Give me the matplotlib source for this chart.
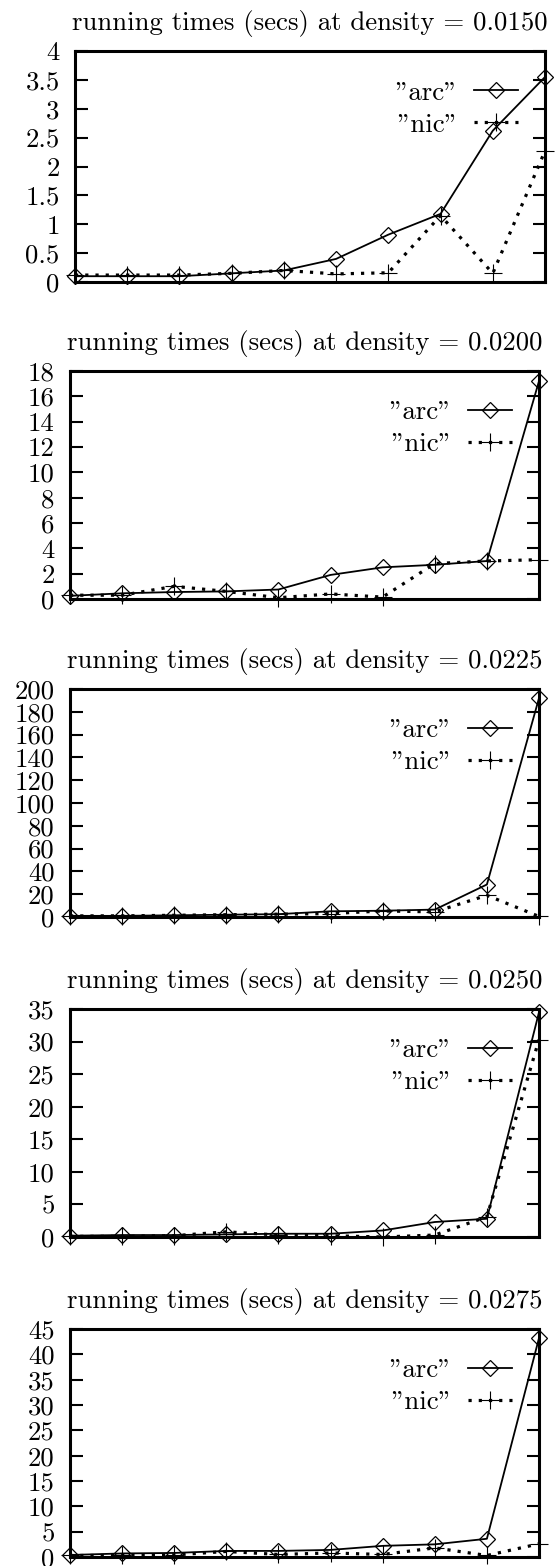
import matplotlib
matplotlib.use("Agg")
import matplotlib.pyplot as plt
from matplotlib.ticker import FuncFormatter, MultipleLocator

plt.rcParams['font.family'] = ['cmr10', 'DejaVu Serif']
plt.rcParams['axes.formatter.use_mathtext'] = True

# x positions (runs) and the five densities
runs = [1, 2, 3, 4, 5, 6, 7, 8, 9, 10]
densities = ["0.0150", "0.0200", "0.0225", "0.0250", "0.0275"]

arc_0150 = [0.10, 0.10, 0.10, 0.15, 0.20, 0.40, 0.82, 1.18, 2.62, 3.55]
nic_0150 = [0.12, 0.12, 0.12, 0.15, 0.20, 0.14, 0.16, 1.15, 0.15, 2.27]

arc_0200 = [0.25, 0.45, 0.55, 0.60, 0.75, 1.9, 2.5, 2.7, 3.0, 17.2]
nic_0200 = [0.30, 0.30, 1.00, 0.60, 0.10, 0.40, 0.15, 2.8, 3.0, 3.1]

arc_0225 = [1.0, 1.0, 1.5, 2.0, 2.5, 5.0, 5.5, 6.5, 28.5, 192]
nic_0225 = [1.0, 1.0, 1.5, 2.0, 2.5, 3.0, 5.3, 4.5, 19.0, 0.5]

arc_0250 = [0.2, 0.3, 0.3, 0.4, 0.5, 0.5, 1.0, 2.3, 2.8, 34.5]
nic_0250 = [0.1, 0.1, 0.2, 0.8, 0.3, 0.2, 0.0, 0.3, 3.1, 30.3]

arc_0275 = [0.4, 0.7, 0.8, 1.2, 1.2, 1.4, 2.2, 2.5, 3.6, 43.2]
nic_0275 = [0.3, 0.3, 0.4, 1.1, 0.5, 0.8, 0.5, 1.8, 0.3, 2.6]

arc_all = [arc_0150, arc_0200, arc_0225, arc_0250, arc_0275]
nic_all = [nic_0150, nic_0200, nic_0225, nic_0250, nic_0275]
ymax = [4, 18, 200, 35, 45]
ystep = [0.5, 2, 20, 5, 5]

# axes boxes in pixels: left, top, right, bottom
boxes = [(75, 51, 545, 282), (70, 371, 539, 599), (70, 689, 539, 917),
         (70, 1009, 539, 1237), (70, 1329, 539, 1557)]

W, H = 559, 1566
fig = plt.figure(figsize=(W / 100, H / 100), dpi=100)
fs = 19.3

for i in range(5):
    l, t, r, b = boxes[i]
    ax = fig.add_axes([l / W, 1 - b / H, (r - l) / W, (b - t) / H])

    ax.plot(runs, arc_all[i], color='black', lw=1.3, marker='D', ms=8.5,
            mfc='none', mec='black', mew=0.9, clip_on=False,
            label='"arc"')
    ax.plot(runs, nic_all[i], color='black', lw=2.3, linestyle=(0, (1, 2.2)),
            dash_capstyle='butt', marker='+', ms=13, mew=0.8,
            clip_on=False, label='"nic"')

    ax.set_xlim(1, 10)
    ax.set_ylim(0, ymax[i])
    ax.set_xticks([])
    ax.yaxis.set_major_locator(MultipleLocator(ystep[i]))
    ax.yaxis.set_major_formatter(FuncFormatter(lambda v, p: f"{v:g}"))
    ax.tick_params(axis='y', direction='in', left=True, right=True,
                   length=9, width=1.5, pad=11, labelsize=fs)
    for sp in ax.spines.values():
        sp.set_linewidth(2.2)

    ax.set_title(f"running times (secs) at density = {densities[i]}",
                 fontsize=fs, pad=15)

    ax.legend(loc='upper right', bbox_to_anchor=(0.943, 0.87),
              frameon=False, markerfirst=False, fontsize=fs,
              borderpad=0, borderaxespad=0, handlelength=1.65,
              handletextpad=0.6, labelspacing=0.3)

fig.savefig("out.png", dpi=100)
